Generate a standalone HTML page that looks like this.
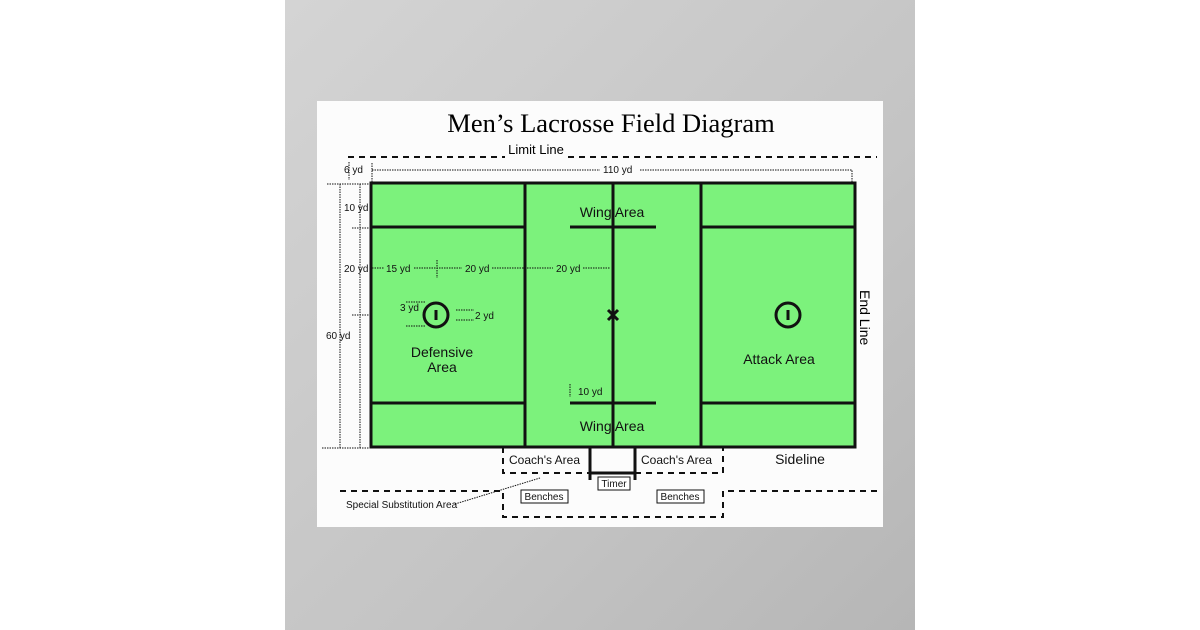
<!DOCTYPE html>
<html><head><style>
html,body{margin:0;padding:0;width:1200px;height:630px;overflow:hidden;background:#fff}
</style></head><body>
<svg width="1200" height="630" xmlns="http://www.w3.org/2000/svg" font-family="Liberation Sans, sans-serif">
<defs><linearGradient id="g" x1="0" y1="0" x2="1" y2="1"><stop offset="0" stop-color="#d4d4d4"/><stop offset="0.6" stop-color="#c4c4c4"/><stop offset="1" stop-color="#b6b6b6"/></linearGradient></defs>
<rect x="285" y="0" width="630" height="630" fill="url(#g)"/>
<rect x="317" y="101" width="566" height="426" fill="#fcfcfc"/>
<text x="611" y="132" font-family="Liberation Serif, serif" font-size="26.5" text-anchor="middle">Men’s Lacrosse Field Diagram</text>
<text x="536" y="154" font-size="13" text-anchor="middle">Limit Line</text>
<g fill="none" stroke="#111" stroke-width="2" stroke-dasharray="6,5">
<path d="M348 157H505M568 157H877"/>
<path d="M503 447V473H590M635 473H723V447"/>
<path d="M340 491H503V517H723V491H880"/>
</g>
<rect x="371" y="183" width="484" height="264" fill="#7cf27c" stroke="#111" stroke-width="3"/>
<g fill="none" stroke="#111" stroke-width="1" stroke-dasharray="1.5,1">
<path d="M372 170H600M640 170H852V183"/>
<path d="M349 162V180M372 163V183"/>
<path d="M327 184H371M360 184V448M340 184V448"/>
<path d="M352 228H371M352 315H371M322 448H371"/>
<path d="M372 268H384M414 268H462M437 260V278M492 268H553M583 268H610"/>
<path d="M406 302H426M406 326H426M456 310H474M456 320H474"/>
<path d="M570 384V397"/>
<path d="M455 504L540 478"/>
</g>
<g stroke="#111" stroke-width="3" fill="none">
<path d="M525 183V447M613 183V447M701 183V447"/>
<path d="M371 227H525M371 403H525M701 227H855M701 403H855"/>
<path d="M570 227H656M570 403H656"/>
<path d="M590 447V480M635 447V480M590 473H635"/>
<circle cx="436" cy="315" r="12"/><circle cx="788" cy="315" r="12"/>
<path d="M436 310V320M788 310V320M608 310L618 320M618 310L608 320"/>
</g>
<g font-size="10" fill="#111">
<text x="344" y="173">6 yd</text>
<text x="603" y="173">110 yd</text>
<text x="344" y="211">10 yd</text>
<text x="344" y="272">20 yd</text>
<text x="386" y="272">15 yd</text>
<text x="465" y="272">20 yd</text>
<text x="556" y="272">20 yd</text>
<text x="400" y="311">3 yd</text>
<text x="475" y="319">2 yd</text>
<text x="326" y="339">60 yd</text>
<text x="578" y="395">10 yd</text>
<text x="346" y="508">Special Substitution Area</text>
</g>
<g font-size="14" fill="#111" text-anchor="middle">
<text x="612" y="217">Wing Area</text>
<text x="612" y="431">Wing Area</text>
<text x="442" y="357">Defensive</text>
<text x="442" y="372">Area</text>
<text x="779" y="364">Attack Area</text>
<text x="800" y="464">Sideline</text>
</g>
<text transform="translate(860,290) rotate(90)" font-size="14">End Line</text>
<g font-size="12" fill="#111">
<text x="509" y="464">Coach's Area</text>
<text x="641" y="464">Coach's Area</text>
</g>
<g fill="#fff" stroke="#111" stroke-width="1">
<rect x="598" y="477" width="32" height="13"/>
<rect x="521" y="490" width="47" height="13"/>
<rect x="657" y="490" width="47" height="13"/>
</g>
<g font-size="10" fill="#111" text-anchor="middle">
<text x="614" y="487">Timer</text>
<text x="544" y="500">Benches</text>
<text x="680" y="500">Benches</text>
</g>
</svg>
</body></html>
